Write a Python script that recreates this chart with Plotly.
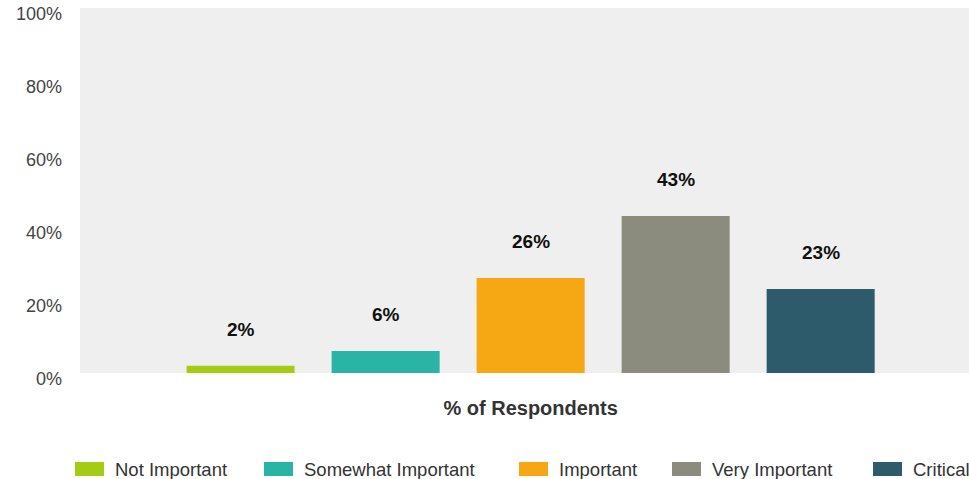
import plotly.graph_objects as go

# Survey results: share of respondents per importance rating
category = ["% of Respondents"]
ratings = ["Not Important", "Somewhat Important", "Important", "Very Important", "Critical"]
shares = [2, 6, 26, 43, 23]
colors = ["#a3cc12", "#2ab4a5", "#f6a814", "#8b8c7e", "#2d5b6c"]

BARGAP = 0.173
BARGROUPGAP = 0.255

W, H = 969, 479
ML, MR, MT, MB = 80, 0, 8, 106
PW, PH = W - ML - MR, H - MT - MB
FONT = "Liberation Sans, Arial, sans-serif"

fig = go.Figure()
for name, val, col in zip(ratings, shares, colors):
    fig.add_trace(go.Bar(
        x=category, y=[val], name=name,
        marker=dict(color=col, line=dict(width=0)),
        hoverinfo="name+y", showlegend=False,
    ))

# value labels above each bar, centred on the bar's slot within the group
n = len(ratings)
slot = (1 - BARGAP) / n
for i, val in enumerate(shares):
    fig.add_annotation(
        x=(i - (n - 1) / 2) * slot, y=val, xref="x", yref="y",
        text=f"<b>{val}%</b>", showarrow=False,
        yanchor="bottom", yshift=24,
        font=dict(family=FONT, size=19, color="#111111"),
    )

# legend row below the chart: wide swatches followed by the rating name
legend_left_px = [75, 264, 519, 672, 873]
swatch_w, swatch_h, text_gap = 29, 14, 9
legend_mid_px = 469


def px_to_paper_x(px):
    return (px - ML) / PW


def px_to_paper_y(py):
    return (H - MB - py) / PH


for left, name, col in zip(legend_left_px, ratings, colors):
    fig.add_shape(
        type="rect", xref="paper", yref="paper",
        x0=px_to_paper_x(left), x1=px_to_paper_x(left + swatch_w),
        y0=px_to_paper_y(legend_mid_px + swatch_h / 2),
        y1=px_to_paper_y(legend_mid_px - swatch_h / 2),
        fillcolor=col, line=dict(width=0), layer="above",
    )
    fig.add_annotation(
        x=px_to_paper_x(left + swatch_w + text_gap), y=px_to_paper_y(legend_mid_px),
        xref="paper", yref="paper", xanchor="left", yanchor="middle",
        text=name, showarrow=False,
        font=dict(family=FONT, size=18.5, color="#333333"),
    )

fig.update_layout(
    width=W, height=H,
    margin=dict(l=ML, r=MR, t=MT, b=MB),
    paper_bgcolor="#ffffff",
    plot_bgcolor="#efefef",
    barmode="group",
    bargap=BARGAP,
    bargroupgap=BARGROUPGAP,
    font=dict(family=FONT, size=17, color="#444444"),
    showlegend=False,
)
fig.update_xaxes(
    type="category", range=[-0.514, 0.5],
    showgrid=False, zeroline=False, showline=False, ticks="",
    tickvals=category, ticktext=[f"<b>{c}</b>" for c in category],
    tickfont=dict(family=FONT, size=20, color="#333333"),
    ticklabelstandoff=21,
)
fig.update_yaxes(
    range=[0, 100], tickvals=[0, 20, 40, 60, 80, 100],
    ticktext=["0%", "20%", "40%", "60%", "80%", "100%"],
    showgrid=False, zeroline=False, showline=False, ticks="",
    ticklabelstandoff=17, ticklabelshift=6,
    tickfont=dict(family=FONT, size=18, color="#444444"),
)

fig.write_html("out.html")
